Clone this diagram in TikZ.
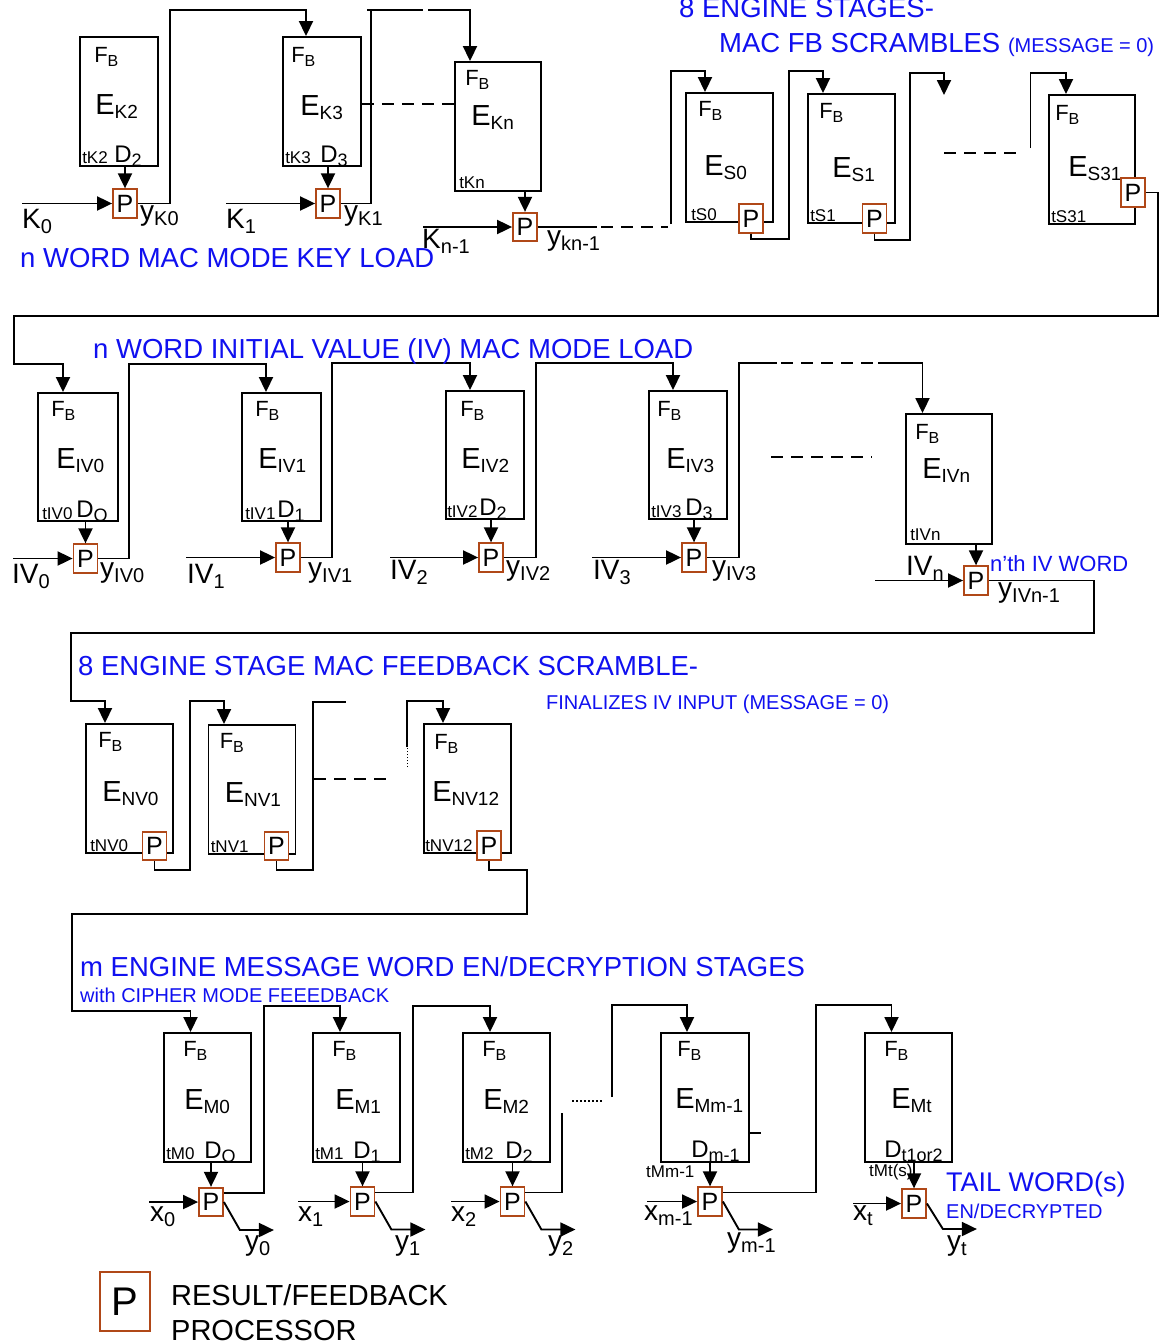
\documentclass[tikz,border=0pt]{standalone}
\usepackage{fontspec}
\setmainfont{Liberation Sans}
\usetikzlibrary{arrows.meta,calc}
\definecolor{tblue}{RGB}{16,16,240}
\definecolor{pbrown}{RGB}{176,72,24}
\newcommand\Lab[5]{{\fontsize{#1}{#1}\selectfont #2\raisebox{-#5pt}{\fontsize{#3}{#3}\selectfont #4}}}
\newcommand\FB{\Lab{22}{F}{16}{B}{4}}
\newcommand\EE[1]{\Lab{29}{E}{19}{#1}{4}}
\newcommand\DD[1]{\Lab{24}{D}{18}{#1}{4}}
\newcommand\TT[1]{{\fontsize{17}{17}\selectfont #1}}
\newcommand\IN[2]{\Lab{28}{#1}{20}{#2}{5}}
\newcommand\lbTop[5]{\node[lab] (#1) at ($(#2.north west)+(#3,#4)$) {#5};}
\newcommand\lbBot[5]{\node[lab] (#1) at ($(#2.south west)+(#3,#4)$) {#5};}
\begin{document}
\begin{tikzpicture}[x=1pt,y=-1pt,
  eng/.style={draw, line width=1.9pt, inner sep=0pt, minimum width=87pt, minimum height=129pt},
  pb/.style={draw=pbrown, line width=1.8pt, fill=white, inner sep=0pt, minimum width=24pt, minimum height=28.5pt, font=\fontsize{25}{25}\selectfont},
  lab/.style={inner sep=0pt, anchor=base west},
  wire/.style={line width=1.9pt},
  arr/.style={wire, -{Triangle[length=15pt,width=14pt]}},
  dsh/.style={wire, dash pattern=on 12pt off 8pt},
  dots/.style={line width=1.5pt, dash pattern=on 2pt off 2pt},
  vdots/.style={line width=1pt, dash pattern=on 1.5pt off 1.5pt},
  ttl/.style={lab, text=tblue, font=\fontsize{27.5}{27.5}\selectfont},
  stl/.style={lab, text=tblue, font=\fontsize{20}{20}\selectfont}]
\useasboundingbox (0,0) rectangle (1168,1344);
\fill[white] (0,0) rectangle (1168,1344);

% ================= boxes =================
\node[eng,minimum width=78pt] (EK2) at (119,101.5) {};
\node[eng,minimum width=78pt] (EK3) at (322,101.5) {};
\node[eng,minimum width=86pt] (EKn) at (498,126.5) {};
\node[eng,minimum width=87pt] (ES0) at (729.5,157.5) {};
\node[eng,minimum width=87pt] (ES1) at (851.5,158.5) {};
\node[eng,minimum width=86pt] (ES31) at (1092,159.5) {};

\node[eng,minimum width=80pt,minimum height=128pt] (EIV0) at (78,457) {};
\node[eng,minimum width=79pt,minimum height=128pt] (EIV1) at (281.5,457) {};
\node[eng,minimum width=78pt,minimum height=128pt] (EIV2) at (485,455) {};
\node[eng,minimum width=78pt,minimum height=128pt] (EIV3) at (688,455) {};
\node[eng,minimum width=86pt,minimum height=130pt] (EIVn) at (949,479) {};

\node[eng] (ENV0) at (129.5,788.5) {};
\node[eng] (ENV1) at (252,789.5) {};
\node[eng] (ENV12) at (467.5,788.5) {};

\node[eng] (EM0) at (207.5,1097.5) {};
\node[eng] (EM1) at (356.5,1097.5) {};
\node[eng] (EM2) at (506.5,1097.5) {};
\node[eng,minimum width=88pt] (EMm) at (705,1097.5) {};
\node[eng] (EMt) at (908.5,1097.5) {};

% ================= Section 1 =================
\lbTop{fk2}{EK2}{15}{26}{\FB}
\lbTop{ek2}{EK2}{16}{78}{\EE{K2}}
\lbBot{tk2}{EK2}{3}{-3}{\TT{tK2}}
\lbBot{dk2}{EK2}{35}{-4}{\DD{2}}
\lbTop{fk3}{EK3}{9}{26}{\FB}
\lbTop{ek3}{EK3}{18}{79}{\EE{K3}}
\lbBot{tk3}{EK3}{3}{-3}{\TT{tK3}}
\lbBot{dk3}{EK3}{38}{-4}{\DD{3}}
\lbTop{fkn}{EKn}{11}{24}{\FB}
\lbTop{ekn}{EKn}{17}{64}{\EE{Kn}}
\lbBot{tkn}{EKn}{5}{-3}{\TT{tKn}}
\lbTop{fs0}{ES0}{13}{24}{\FB}
\lbTop{es0}{ES0}{19}{83}{\EE{S0}}
\lbBot{ts0}{ES0}{6}{-2}{\TT{tS0}}
\lbTop{fs1}{ES1}{12}{25}{\FB}
\lbTop{es1}{ES1}{25}{84}{\EE{S1}}
\lbBot{ts1}{ES1}{3}{-2}{\TT{tS1}}
\lbTop{fs31}{ES31}{7}{26}{\FB}
\lbTop{es31}{ES31}{20}{82}{\EE{S31}}
\lbBot{ts31}{ES31}{3}{-2}{\TT{tS31}}

\node[pb] (PK0) at (125,203.5) {P};
\node[pb] (PK1) at (328,203.5) {P};
\node[pb] (PKn) at (525,227) {P};
\node[pb] (PS0) at (751,218.5) {P};
\node[pb] (PS1) at (874.5,218.5) {P};
\node[pb] (PS31) at (1133,192.5) {P};

\coordinate (k0in) at (22,203.5);
\coordinate (k1in) at (226,203.5);
\coordinate (knin) at (423,227);
\coordinate (s1free) at (944,95);

\draw[arr] (PK0.north |- EK2.south) -- (PK0.north);
\draw[arr] (k0in) -- (PK0.west);
\draw[arr] (PK0.east) -| (170,10) -| ([xshift=-16pt]EK3.north);
\draw[arr] (PK1.north |- EK3.south) -- (PK1.north);
\draw[arr] (k1in) -- (PK1.west);
\draw[wire] (PK1.east) -| (371,10) -- (423,10);
\draw[wire] (367,10) -- (371,10);
\draw[arr] (428,10) -| ([xshift=-28pt]EKn.north);
\draw[dsh] ([yshift=-2.5pt]EK3.east) -- ([yshift=-2.5pt]EKn.west |- EK3.east);
\draw[arr] (PKn.north |- EKn.south) -- (PKn.north);
\draw[arr] (knin) -- (PKn.west);
\draw[wire] (PKn.east) -- (597,227);
\draw[dsh] (601,227) -- (668,227);
\draw[arr] (671,224) -- (671,71) -| ([xshift=-24.5pt]ES0.north);
\draw[arr] (PS0.south) -- ++(0,5) -| (789,71) -| ([xshift=-28.5pt]ES1.north);
\draw[arr] (PS1.south) -- ++(0,6.5) -| (910,73) -| (s1free);
\draw[dsh] (944,153) -- (1022,153);
\draw[arr] (1030.5,148) -- (1030.5,73) -| ([xshift=-26pt]ES31.north);

\node[lab] (lk0) at (22,228) {\IN{K}{0}};
\node[lab] (lyk0) at (140,220) {\IN{y}{K0}};
\node[lab] (lk1) at (226,228) {\IN{K}{1}};
\node[lab] (lyk1) at (344,220) {\IN{y}{K1}};
\node[lab] (lkn) at (422,248) {\IN{K}{n-1}};
\node[lab] (lykn) at (547,245) {\IN{y}{kn-1}};

\node[ttl] (t1a) at (679,17) {8 ENGINE STAGES-};
\node[ttl] (t1b) at (719,52) {MAC FB SCRAMBLES {\fontsize{20}{20}\selectfont(MESSAGE = 0)}};
\node[ttl] (t1c) at (20,267) {n WORD MAC MODE KEY LOAD};

% ================= Section 2 =================
\draw[arr] (PS31.east) -| (1158,316) -| (14,364) -| ([xshift=-15pt]EIV0.north);

\lbTop{fiv0}{EIV0}{14}{24}{\FB}
\lbTop{eiv0}{EIV0}{19}{76}{\EE{IV0}}
\lbBot{tiv0}{EIV0}{5}{-2}{\TT{tIV0}}
\lbBot{div0}{EIV0}{39}{-4}{\DD{O}}
\lbTop{fiv1}{EIV1}{14}{24}{\FB}
\lbTop{eiv1}{EIV1}{17}{76}{\EE{IV1}}
\lbBot{tiv1}{EIV1}{4}{-2}{\TT{tIV1}}
\lbBot{div1}{EIV1}{36}{-4}{\DD{1}}
\lbTop{fiv2}{EIV2}{15}{26}{\FB}
\lbTop{eiv2}{EIV2}{16}{78}{\EE{IV2}}
\lbBot{tiv2}{EIV2}{2}{-2}{\TT{tIV2}}
\lbBot{div2}{EIV2}{34}{-4}{\DD{2}}
\lbTop{fiv3}{EIV3}{9}{26}{\FB}
\lbTop{eiv3}{EIV3}{18}{78}{\EE{IV3}}
\lbBot{tiv3}{EIV3}{3}{-2}{\TT{tIV3}}
\lbBot{div3}{EIV3}{37}{-4}{\DD{3}}
\lbTop{fivn}{EIVn}{10}{26}{\FB}
\lbTop{eivn}{EIVn}{17}{65}{\EE{IVn}}
\lbBot{tivn}{EIVn}{5}{-4}{\TT{tIVn}}

\node[pb] (PIV0) at (85.5,558.5) {P};
\node[pb] (PIV1) at (288,557.5) {P};
\node[pb] (PIV2) at (491,557.5) {P};
\node[pb] (PIV3) at (694,557.5) {P};
\node[pb] (PIVn) at (976,580.5) {P};

\coordinate (iv0in) at (13,558.5);
\coordinate (iv1in) at (186,557.5);
\coordinate (iv2in) at (390,557.5);
\coordinate (iv3in) at (592,557.5);
\coordinate (ivnin) at (875,580.5);

\foreach \b/\p in {EIV0/PIV0,EIV1/PIV1,EIV2/PIV2,EIV3/PIV3,EIVn/PIVn}
  \draw[arr] (\p.north |- \b.south) -- (\p.north);
\foreach \i/\p in {iv0in/PIV0,iv1in/PIV1,iv2in/PIV2,iv3in/PIV3,ivnin/PIVn}
  \draw[arr] (\i) -- (\p.west);
\draw[arr] (PIV0.east) -| (129,364) -| ([xshift=-15.5pt]EIV1.north);
\draw[arr] (PIV1.east) -| (332,363) -| ([xshift=-15pt]EIV2.north);
\draw[arr] (PIV2.east) -| (536,363) -| ([xshift=-15pt]EIV3.north);
\draw[wire] (PIV3.east) -| (739,363) -- (777,363);
\draw[dsh] (781,363) -- (876,363);
\draw[arr] (878,363) -| ([xshift=-26.5pt]EIVn.north);
\draw[dsh] (771,457) -- (872,457);

\node[lab] (liv0) at (12,583) {\IN{IV}{0}};
\node[lab] (lyiv0) at (100,577) {\IN{y}{IV0}};
\node[lab] (liv1) at (187,583) {\IN{IV}{1}};
\node[lab] (lyiv1) at (308,577) {\IN{y}{IV1}};
\node[lab] (liv2) at (390,579) {\IN{IV}{2}};
\node[lab] (lyiv2) at (506,575) {\IN{y}{IV2}};
\node[lab] (liv3) at (593,579) {\IN{IV}{3}};
\node[lab] (lyiv3) at (712,575) {\IN{y}{IV3}};
\node[lab] (livn) at (906,575) {\IN{IV}{n}};
\node[lab] (lyivn) at (998,597) {\IN{y}{IVn-1}};

\node[ttl] (t2a) at (93,358) {n WORD INITIAL VALUE (IV) MAC MODE LOAD};
\node[lab, text=tblue, font=\fontsize{22}{22}\selectfont] (t2b) at (990,571) {n’th IV WORD};

% ================= Section 3 =================
\draw[arr] (PIVn.east) -| (1094,633) -| (71,701) -| ([xshift=-24.5pt]ENV0.north);

\lbTop{fnv0}{ENV0}{13}{24}{\FB}
\lbTop{env0}{ENV0}{17}{78}{\EE{NV0}}
\lbBot{tnv0}{ENV0}{5}{-2}{\TT{tNV0}}
\lbTop{fnv1}{ENV1}{12}{24}{\FB}
\lbTop{env1}{ENV1}{17}{78}{\EE{NV1}}
\lbBot{tnv1}{ENV1}{3}{-2}{\TT{tNV1}}
\lbTop{fnv12}{ENV12}{11}{26}{\FB}
\lbTop{env12}{ENV12}{9}{78}{\EE{NV12}}
\lbBot{tnv12}{ENV12}{2}{-2}{\TT{tNV12}}

\node[pb] (PNV0) at (154.5,846) {P};
\node[pb] (PNV1) at (276.5,846) {P};
\node[pb] (PNV12) at (489,845.5) {P};

\draw[arr] (PNV0.south) -- ++(0,9) -| (190,701) -| ([xshift=-28pt]ENV1.north);
\draw[wire] (PNV1.south) -- ++(0,9) -| (313,702) -- (346,702);
\draw[dsh] (314,779) -- (392,779);
\draw[vdots] (407,767) -- (407,747);
\draw[arr] (407,747) -- (407,701) -| ([xshift=-24.5pt]ENV12.north);

\node[ttl] (t3a) at (78,675) {8 ENGINE STAGE MAC FEEDBACK SCRAMBLE-};
\node[stl] (t3b) at (546,709) {FINALIZES IV INPUT (MESSAGE = 0)};

% ================= Section 4 =================
\draw[arr] (PNV12.south) -- ++(0,9) -| (527,914) -| (72,1011) -| ([xshift=-17pt]EM0.north);

\lbTop{fm0}{EM0}{20}{24}{\FB}
\lbTop{em0}{EM0}{21}{77}{\EE{M0}}
\lbBot{tm0}{EM0}{3}{-3}{\TT{tM0}}
\lbBot{dm0}{EM0}{41}{-4}{\DD{O}}
\lbTop{fm1}{EM1}{20}{24}{\FB}
\lbTop{em1}{EM1}{23}{77}{\EE{M1}}
\lbBot{tm1}{EM1}{3}{-3}{\TT{tM1}}
\lbBot{dm1}{EM1}{41}{-4}{\DD{1}}
\lbTop{fm2}{EM2}{20}{24}{\FB}
\lbTop{em2}{EM2}{21}{77}{\EE{M2}}
\lbBot{tm2}{EM2}{3}{-3}{\TT{tM2}}
\lbBot{dm2}{EM2}{43}{-4}{\DD{2}}
\lbTop{fmm}{EMm}{17}{24}{\FB}
\lbTop{emm}{EMm}{15}{76}{\EE{Mm-1}}
\lbBot{dmm}{EMm}{31}{-5}{\DD{m-1}}
\lbTop{fmt}{EMt}{20}{24}{\FB}
\lbTop{emt}{EMt}{27}{76}{\EE{Mt}}
\lbBot{dmt}{EMt}{20}{-5}{\DD{t1or2}}

\node[pb] (PM0) at (211,1202) {P};
\node[pb] (PM1) at (362.5,1201.5) {P};
\node[pb] (PM2) at (512.5,1201.5) {P};
\node[pb] (PMm) at (710,1201.5) {P};
\node[pb] (PMt) at (914,1203.5) {P};

\coordinate (x0in) at (149,1202);
\coordinate (x1in) at (298,1201.5);
\coordinate (x2in) at (451,1201.5);
\coordinate (xmin) at (647,1201.5);
\coordinate (xtin) at (853,1203.5);

\foreach \b/\p in {EM0/PM0,EM1/PM1,EM2/PM2,EMm/PMm,EMt/PMt}
  \draw[arr] (\p.north |- \b.south) -- (\p.north);
\foreach \i/\p in {x0in/PM0,x1in/PM1,x2in/PM2,xmin/PMm,xtin/PMt}
  \draw[arr] (\i) -- (\p.west);
\foreach \p in {PM0,PM1,PM2,PMm}
  \draw[arr] (\p.east) -- ++(16,28) -- ++(34,0);
\draw[arr] (PMt.east) -- ++(16,25.5) -- ++(34,0);

\draw[arr] ($(PM0.east)+(0,-9)$) -| (264,1006) -| ([xshift=-16.5pt]EM1.north);
\draw[arr] ($(PM1.east)+(0,-9)$) -| (413,1006) -| ([xshift=-16.5pt]EM2.north);
\draw[wire] ($(PM2.east)+(0,-9)$) -| (562,1113);
\draw[dots] (572,1101) -- (602,1101);
\draw[arr] (612,1097) -- (612,1005) -| ([xshift=-18pt]EMm.north);
\draw[arr] ($(PMm.east)+(0,-9)$) -| (816,1005) -| ([xshift=-17pt]EMt.north);
\draw[wire] ($(EMm.north east)+(0,101)$) -- ++(11,0);

\node[lab] (ltmm) at (646,1177) {\TT{tMm-1}};
\node[lab] (ltmt) at (869,1176) {\TT{tMt(s)}};

\node[lab] (lx0) at (150,1221) {\IN{x}{0}};
\node[lab] (ly0) at (245,1250) {\IN{y}{0}};
\node[lab] (lx1) at (298,1221) {\IN{x}{1}};
\node[lab] (ly1) at (395,1250) {\IN{y}{1}};
\node[lab] (lx2) at (451,1221) {\IN{x}{2}};
\node[lab] (ly2) at (548,1250) {\IN{y}{2}};
\node[lab] (lxm) at (644,1220) {\IN{x}{m-1}};
\node[lab] (lym) at (727,1247) {\IN{y}{m-1}};
\node[lab] (lxt) at (853,1220) {\IN{x}{t}};
\node[lab] (lyt) at (947,1250) {\IN{y}{t}};

\node[ttl] (t4a) at (80,976) {m ENGINE MESSAGE WORD EN/DECRYPTION STAGES};
\node[stl] (t4b) at (80,1002) {with CIPHER MODE FEEEDBACK};
\node[lab, text=tblue, font=\fontsize{27}{27}\selectfont] (t4c) at (946,1191) {TAIL WORD(s)};
\node[stl] (t4d) at (946,1218) {EN/DECRYPTED};

% ================= Legend =================
\node[pb, line width=1.5pt, minimum width=50pt, minimum height=59pt, font=\fontsize{40}{40}\selectfont] (PL) at (125,1301.5) {P};
\node[lab, font=\fontsize{29}{29}\selectfont] (leg1) at (171,1305) {RESULT/FEEDBACK};
\node[lab, font=\fontsize{29}{29}\selectfont] (leg2) at (171,1340) {PROCESSOR};
\end{tikzpicture}
\end{document}
